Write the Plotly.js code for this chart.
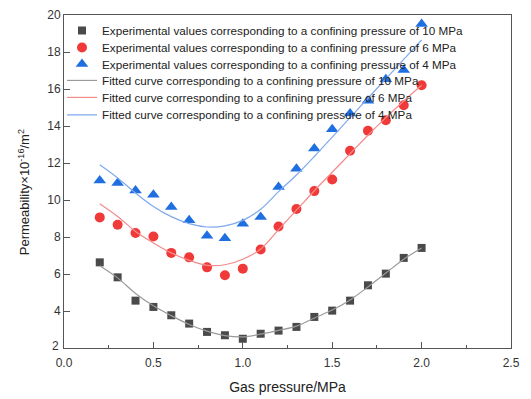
<!DOCTYPE html>
<html>
<head>
<meta charset="utf-8">
<script src="https://cdn.plot.ly/plotly-3.0.1.min.js"></script>
<style>html,body{margin:0;padding:0;background:#fff;}#chart{width:531px;height:399px;}</style>
</head>
<body>
<div id="chart"></div>
<script>
const gasPressure = [0.2,0.3,0.4,0.5,0.6,0.7,0.8,0.9,1.0,1.1,1.2,1.3,1.4,1.5,1.6,1.7,1.8,1.9,2.0];
const exp10 = [6.63,5.82,4.56,4.22,3.77,3.32,2.87,2.69,2.50,2.77,2.94,3.14,3.68,4.02,4.56,5.39,6.02,6.87,7.41];
const exp6  = [9.06,8.66,8.22,8.03,7.14,6.90,6.36,5.93,6.29,7.32,8.57,9.51,10.48,11.11,12.66,13.74,14.31,15.12,16.20];
const exp4  = [11.06,10.92,10.52,10.28,9.62,8.90,8.07,7.93,8.72,9.08,10.70,11.69,12.78,13.83,14.67,15.36,16.53,17.03,19.51];
const fit10 = [6.45,5.79,4.95,4.28,3.75,3.27,2.91,2.67,2.60,2.75,2.95,3.18,3.62,4.05,4.60,5.30,6.05,6.80,7.41];
const fit6  = [9.80,9.11,8.30,7.68,7.14,6.74,6.47,6.50,6.80,7.35,8.40,9.45,10.50,11.50,12.50,13.50,14.45,15.35,16.20];
const fit4  = [11.90,11.19,10.38,9.65,9.10,8.72,8.54,8.60,8.90,9.50,10.45,11.35,12.35,13.40,14.45,15.50,16.55,17.60,18.65];
const names = [
  "Experimental values corresponding to a confining pressure of 10 MPa",
  "Experimental values corresponding to a confining pressure of 6 MPa",
  "Experimental values corresponding to a confining pressure of 4 MPa",
  "Fitted curve corresponding to a confining pressure of 10 MPa",
  "Fitted curve corresponding to a confining pressure of 6 MPa",
  "Fitted curve corresponding to a confining pressure of 4 MPa"
];
const yTickVals = [2,4,6,8,10,12,14,16,18,20];
const yTickText = ['',  '4','6','8','10','12','14','16','18','20'];
const xTitle = 'Gas pressure/MPa';
const yTitle = 'Permeability×10<sup>-16</sup>/m<sup>2</sup>';

const legendIds = ['legend','legend2','legend3','legend4','legend5','legend6'];
const traces = [
  {x: gasPressure, y: exp10, name: names[0], mode: 'markers', type: 'scatter',
   marker: {symbol: 'square', size: 8, color: '#4a4a4a'}},
  {x: gasPressure, y: exp6, name: names[1], mode: 'markers', type: 'scatter',
   marker: {symbol: 'circle', size: 10, color: '#f03a3a'}},
  {x: gasPressure, y: exp4, name: names[2], mode: 'markers', type: 'scatter',
   marker: {symbol: 'triangle-up', size: 11, color: '#1f6fe0'}},
  {x: gasPressure, y: fit10, name: names[3], mode: 'lines', type: 'scatter',
   line: {shape: 'spline', color: '#9a9a9a', width: 1.2}},
  {x: gasPressure, y: fit6, name: names[4], mode: 'lines', type: 'scatter',
   line: {shape: 'spline', color: '#f58a8a', width: 1.2}},
  {x: gasPressure, y: fit4, name: names[5], mode: 'lines', type: 'scatter',
   line: {shape: 'spline', color: '#7fa9ee', width: 1.2}}
];
traces.forEach((t, i) => { t.legend = legendIds[i]; });

const axisCommon = {
  showline: true, mirror: true, linecolor: '#555', linewidth: 1,
  ticks: 'inside', ticklen: 6, tickcolor: '#555', showgrid: false, zeroline: false,
  tickfont: {family: 'Liberation Sans, Arial, sans-serif', size: 12, color: '#333'}
};

const plotTop = 15, plotBottom = 348.5, plotH = plotBottom - plotTop;
const rowCenters = [31, 48, 64.5, 81, 98, 115.5];

const layout = {
  width: 531, height: 399,
  margin: {l: 64, r: 20, t: 15, b: 51},
  paper_bgcolor: '#fff', plot_bgcolor: '#fff',
  font: {family: 'Liberation Sans, Arial, sans-serif', color: '#222'},
  showlegend: true,
  xaxis: Object.assign({}, axisCommon, {
    range: [0, 2.5], dtick: 0.5, tickformat: '.1f', ticklabelstandoff: 4,
    minor: {dtick: 0.25, ticks: 'inside', ticklen: 3, tickcolor: '#555'},
    title: {text: xTitle, font: {size: 14, color: '#222'}, standoff: 12}
  }),
  yaxis: Object.assign({}, axisCommon, {
    range: [2, 20], tickmode: 'array', tickvals: yTickVals, ticktext: yTickText
  }),
  annotations: [
    {xref: 'paper', yref: 'y', x: 0, y: 2, xanchor: 'right', yanchor: 'middle',
     xshift: -3, yshift: 2, text: '2', showarrow: false,
     font: {family: 'Liberation Sans, Arial, sans-serif', size: 12, color: '#333'}},
    {xref: 'paper', yref: 'paper', x: (24 - 64) / 447, y: (plotBottom - 192.5) / plotH,
     xanchor: 'center', yanchor: 'middle', textangle: -90, text: yTitle, showarrow: false,
     font: {family: 'Liberation Sans, Arial, sans-serif', size: 13, color: '#222'}}
  ]
};
legendIds.forEach((id, i) => {
  layout[id] = {
    x: -2 / 447, y: (plotBottom - (rowCenters[i] - 15)) / plotH,
    xanchor: 'left', yanchor: 'top', bgcolor: 'rgba(0,0,0,0)',
    font: {size: 11.7, color: '#222'}
  };
});

Plotly.newPlot('chart', traces, layout, {displayModeBar: false, staticPlot: true});
</script>
</body>
</html>
